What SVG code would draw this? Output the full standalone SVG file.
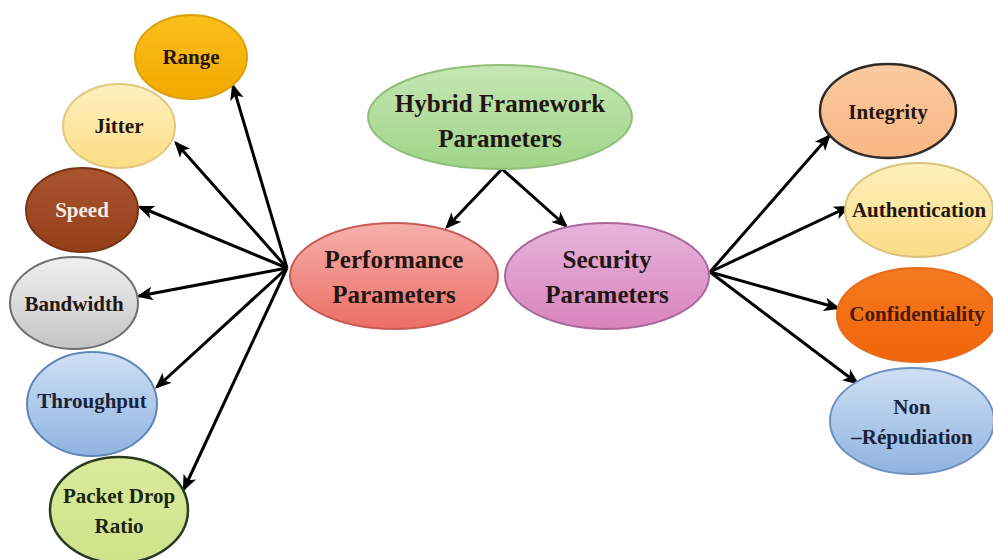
<svg xmlns="http://www.w3.org/2000/svg" width="993" height="560" viewBox="0 0 993 560">
<style>
text{font-family:"Liberation Serif","Times New Roman",serif;font-weight:bold;text-anchor:middle;fill:#231612}
.s{font-size:21px}
.b{font-size:25px}
.c{stroke:#000;stroke-width:3;fill:none;marker-end:url(#ah)}
</style>
<defs>
<marker id="ah" viewBox="0 0 12 10" refX="10" refY="5" markerWidth="5.5" markerHeight="5.5" markerUnits="strokeWidth" orient="auto">
<path d="M0,0 L12,5 L0,10 L3,5 z" fill="#000"/>
</marker>
<linearGradient id="gRange" x1="0" y1="0" x2="0" y2="1"><stop offset="0" stop-color="#f9bf1c"/><stop offset="1" stop-color="#f2a900"/></linearGradient>
<linearGradient id="gJit" x1="0" y1="0" x2="0" y2="1"><stop offset="0" stop-color="#fdf0c0"/><stop offset="1" stop-color="#fcdd84"/></linearGradient>
<linearGradient id="gSpeed" x1="0" y1="0" x2="0" y2="1"><stop offset="0" stop-color="#a85530"/><stop offset="1" stop-color="#943f18"/></linearGradient>
<linearGradient id="gBand" x1="0" y1="0" x2="0" y2="1"><stop offset="0" stop-color="#f0f0f0"/><stop offset="1" stop-color="#c4c4c4"/></linearGradient>
<linearGradient id="gBlue" x1="0" y1="0" x2="0" y2="1"><stop offset="0" stop-color="#cfe0f4"/><stop offset="1" stop-color="#8fb3e0"/></linearGradient>
<linearGradient id="gPdr" x1="0" y1="0" x2="0" y2="1"><stop offset="0" stop-color="#dcea9c"/><stop offset="1" stop-color="#cfe28a"/></linearGradient>
<linearGradient id="gHyb" x1="0" y1="0" x2="0" y2="1"><stop offset="0" stop-color="#c6e6b4"/><stop offset="1" stop-color="#9fd488"/></linearGradient>
<linearGradient id="gPerf" x1="0" y1="0" x2="0" y2="1"><stop offset="0" stop-color="#f6b0ac"/><stop offset="1" stop-color="#ec6e66"/></linearGradient>
<linearGradient id="gSec" x1="0" y1="0" x2="0" y2="1"><stop offset="0" stop-color="#e6b4dc"/><stop offset="1" stop-color="#d884bc"/></linearGradient>
<linearGradient id="gInt" x1="0" y1="0" x2="0" y2="1"><stop offset="0" stop-color="#fbcaa0"/><stop offset="1" stop-color="#f8b684"/></linearGradient>
<linearGradient id="gAuth" x1="0" y1="0" x2="0" y2="1"><stop offset="0" stop-color="#fdf0bc"/><stop offset="1" stop-color="#fbdc86"/></linearGradient>
<linearGradient id="gConf" x1="0" y1="0" x2="0" y2="1"><stop offset="0" stop-color="#f47a22"/><stop offset="1" stop-color="#f06408"/></linearGradient>
</defs>

<g id="connectors">
<line class="c" x1="502" y1="169" x2="447" y2="227"/>
<line class="c" x1="502" y1="169" x2="566" y2="226"/>
<line class="c" x1="287" y1="268" x2="233" y2="86"/>
<line class="c" x1="287" y1="268" x2="176" y2="143"/>
<line class="c" x1="287" y1="268" x2="140" y2="207"/>
<line class="c" x1="287" y1="268" x2="139" y2="296"/>
<line class="c" x1="287" y1="268" x2="157" y2="387"/>
<line class="c" x1="287" y1="268" x2="184" y2="489"/>
<line class="c" x1="710" y1="272" x2="829" y2="136"/>
<line class="c" x1="710" y1="272" x2="848" y2="207"/>
<line class="c" x1="710" y1="272" x2="838" y2="308"/>
<line class="c" x1="710" y1="272" x2="857" y2="383"/>
</g>

<g id="hybrid"><ellipse cx="500" cy="117" rx="132" ry="52" fill="url(#gHyb)" stroke="#8fbf78" stroke-width="2"/><text class="b" x="500" y="112">Hybrid Framework</text><text class="b" x="500" y="147">Parameters</text></g>
<g id="performance"><ellipse cx="394" cy="276" rx="104" ry="53" fill="url(#gPerf)" stroke="#c85a55" stroke-width="2"/><text class="b" x="394" y="268">Performance</text><text class="b" x="394" y="303">Parameters</text></g>
<g id="security"><ellipse cx="607" cy="276" rx="102" ry="53" fill="url(#gSec)" stroke="#a8689a" stroke-width="2"/><text class="b" x="607" y="268">Security</text><text class="b" x="607" y="303">Parameters</text></g>

<g id="range"><ellipse cx="191" cy="57" rx="56" ry="42" fill="url(#gRange)" stroke="#dca20c" stroke-width="2"/><text class="s" x="191" y="64">Range</text></g>
<g id="jitter"><ellipse cx="119" cy="126" rx="56" ry="42" fill="url(#gJit)" stroke="#e2c97e" stroke-width="2"/><text class="s" x="119" y="133">Jitter</text></g>
<g id="speed"><ellipse cx="82" cy="210" rx="56" ry="42" fill="url(#gSpeed)" stroke="#7a3414" stroke-width="2"/><text class="s" x="82" y="217" style="fill:#f8ece4">Speed</text></g>
<g id="bandwidth"><ellipse cx="74" cy="303" rx="64" ry="46" fill="url(#gBand)" stroke="#6e6e6e" stroke-width="2"/><text class="s" x="74" y="311">Bandwidth</text></g>
<g id="throughput"><ellipse cx="92" cy="404" rx="65" ry="52" fill="url(#gBlue)" stroke="#5f86b8" stroke-width="2"/><text class="s" x="92" y="408" style="fill:#18223a">Throughput</text></g>
<g id="packetdrop"><ellipse cx="119" cy="510" rx="69" ry="53" fill="url(#gPdr)" stroke="#2a3a22" stroke-width="2.5"/><text class="s" x="119" y="503" style="fill:#1a2612">Packet Drop</text><text class="s" x="119" y="533" style="fill:#1a2612">Ratio</text></g>

<g id="integrity"><ellipse cx="888" cy="111" rx="68" ry="47" fill="url(#gInt)" stroke="#2e2a28" stroke-width="2.5"/><text class="s" x="888" y="119">Integrity</text></g>
<g id="authentication"><ellipse cx="919" cy="210" rx="74" ry="47" fill="url(#gAuth)" stroke="#d9c27a" stroke-width="2"/><text class="s" x="919" y="217">Authentication</text></g>
<g id="confidentiality"><ellipse cx="917" cy="315" rx="80" ry="47" fill="url(#gConf)" stroke="#e86c1a" stroke-width="2"/><text class="s" x="917" y="321" style="fill:#4a1a08">Confidentiality</text></g>
<g id="nonrepudiation"><ellipse cx="912" cy="421" rx="82" ry="53" fill="url(#gBlue)" stroke="#6d8fc2" stroke-width="2"/><text class="s" x="912" y="414" style="fill:#18223a">Non</text><text class="s" x="912" y="444" style="fill:#18223a">–Répudiation</text></g>
</svg>
